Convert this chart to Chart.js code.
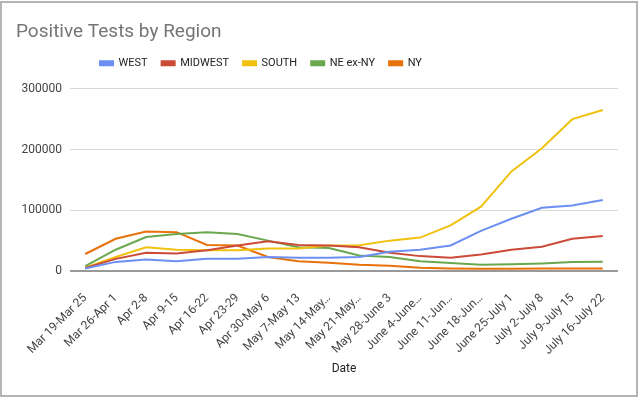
<!DOCTYPE html>
<html>
<head>
<meta charset="utf-8">
<script src="https://cdn.jsdelivr.net/npm/chart.js@4/dist/chart.umd.min.js"></script>
<style>
  body { margin: 0; background: #fff; }
  #wrap { position: absolute; left: 0; top: 0; width: 640px; height: 398px; }
  #borde { position: absolute; left: 0; top: 1px; width: 634px; height: 392px; border: 2px solid #b4b4b4; pointer-events: none; }
</style>
</head>
<body>
<div id="wrap"><canvas id="grafica" width="640" height="398"></canvas></div>
<div id="borde"></div>
<script>
const semanas = ["Mar 19-Mar 25", "Mar 26-Apr 1", "Apr 2-8", "Apr 9-15", "Apr 16-22", "Apr 23-29",
  "Apr 30-May 6", "May 7-May 13", "May 14-May\u2026", "May 21-May\u2026", "May 28-June 3", "June 4-June\u2026",
  "June 11-Jun\u2026", "June 18-Jun\u2026", "June 25-July 1", "July 2-July 8", "July 9-July 15", "July 16-July 22"];

const west = [4000, 15000, 19000, 16000, 20000, 20000, 23000, 22000, 22000, 23000, 31500, 35000, 42000, 66000, 86000, 104000, 108000, 117000];
const midwest = [5000, 20000, 30000, 29000, 34000, 42000, 49000, 43000, 42000, 39000, 30000, 24500, 22000, 27000, 35000, 40000, 53000, 57600];
const south = [5400, 23000, 39000, 35000, 34000, 34000, 37000, 37000, 42000, 42500, 50000, 55000, 75000, 106000, 164000, 202000, 250000, 265000];
const neExNy = [8000, 35000, 56000, 61000, 64000, 61000, 50000, 39000, 38000, 25500, 23000, 16000, 13000, 10300, 11000, 12500, 14700, 15200];
const ny = [28000, 53000, 65000, 64000, 43000, 42000, 23000, 16000, 13600, 10300, 8700, 5400, 4300, 3800, 3800, 4300, 4300, 4300];

const yTicks = [0, 100000, 200000, 300000];

function serie(nombre, datos, color) {
  return {
    label: nombre,
    data: datos,
    borderColor: color,
    backgroundColor: color,
    borderWidth: 2,
    pointRadius: 0,
    tension: 0
  };
}

// leyenda: un poco a la izquierda y con mas aire debajo, como en la hoja
const ajustarLeyenda = {
  id: "ajustarLeyenda",
  beforeLayout(chart) {
    const lg = chart.legend;
    if (lg && !lg._parche) {
      const fitOrig = lg.fit;
      lg.fit = function () {
        fitOrig.call(this);
        this.height += 10;
      };
      lg._parche = true;
    }
  },
  afterLayout(chart) {
    chart.legend.left -= 56;
    chart.legend.right -= 56;
  }
};

const ctx = document.getElementById("grafica").getContext("2d");
window.chart = new Chart(ctx, {
  type: "line",
  data: {
    labels: semanas,
    datasets: [
      serie("WEST", west, "#6d8ff2"),
      serie("MIDWEST", midwest, "#cc4b38"),
      serie("SOUTH", south, "#f1c10f"),
      serie("NE ex-NY", neExNy, "#6aa84f"),
      serie("NY", ny, "#e8710a")
    ]
  },
  options: {
    responsive: false,
    animation: false,
    layout: { padding: { left: 16, right: 22, top: 0, bottom: 22 } },
    font: { family: "Roboto" },
    plugins: {
      title: {
        display: true,
        text: "Positive Tests by Region",
        align: "start",
        color: "#757575",
        font: { family: "Roboto", size: 19, weight: "normal" },
        padding: { top: 21, bottom: 0 }
      },
      legend: {
        labels: {
          boxWidth: 13,
          boxHeight: 4,
          padding: 14,
          color: "#222",
          font: { family: "Roboto", size: 11 }
        }
      },
      tooltip: { enabled: false }
    },
    scales: {
      x: {
        offset: true,
        grid: { display: false },
        border: { display: false },
        afterFit(scale) {
          scale.height = 105;
        },
        ticks: {
          color: "#444",
          padding: 12,
          font: { family: "Roboto", size: 12 },
          minRotation: 45,
          maxRotation: 45,
          autoSkip: false
        },
        title: {
          display: true,
          text: "Date",
          color: "#222",
          font: { family: "Roboto", size: 12 },
          padding: { top: 0, bottom: 0 }
        }
      },
      y: {
        min: 0,
        max: 300000,
        afterBuildTicks(scale) {
          scale.ticks = yTicks.map(v => ({ value: v }));
        },
        afterFit(scale) {
          scale.width = 54;
        },
        border: { display: false },
        grid: {
          drawTicks: false,
          color: c => (c.tick && c.tick.value === 0 ? "#999" : "#d9d9d9"),
          lineWidth: c => (c.tick && c.tick.value === 0 ? 2 : 1)
        },
        ticks: {
          color: "#444",
          padding: 8,
          font: { family: "Roboto", size: 12 },
          callback: v => String(v)
        }
      }
    }
  },
  plugins: [ajustarLeyenda]
});
</script>
</body>
</html>
